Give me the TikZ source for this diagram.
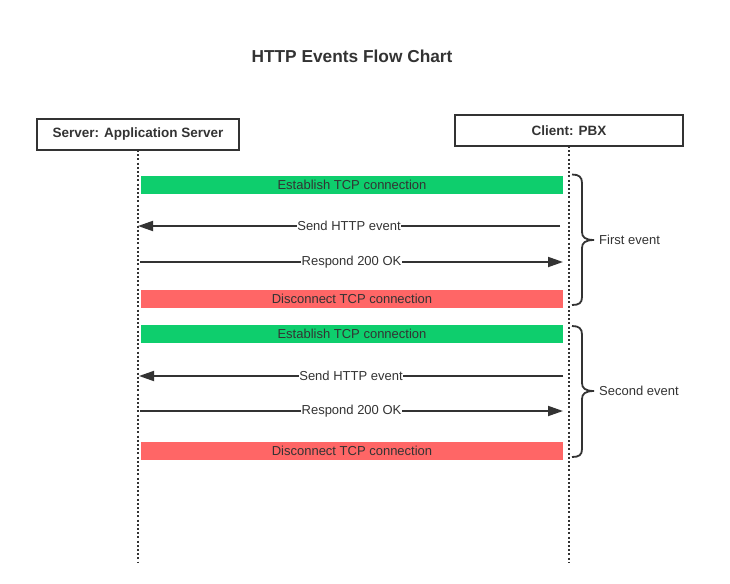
\documentclass[tikz,border=0pt]{standalone}
\usepackage{fontspec}
\setmainfont{Liberation Sans}
\usetikzlibrary{arrows.meta}
\definecolor{ink}{HTML}{333333}
\definecolor{okgreen}{HTML}{0ECE6D}
\definecolor{badred}{HTML}{FF6666}
\tikzset{
  actor/.style={draw=ink, line width=1.6pt, fill=white, text=ink, font=\fontsize{13.5}{16}\selectfont\bfseries, minimum height=31pt, inner sep=0pt},
  life/.style={draw=ink, line width=2pt, dash pattern=on 2pt off 2.2pt},
  bar/.style={text=ink, font=\fontsize{13}{15}\selectfont, minimum height=18pt, minimum width=422pt, inner sep=0pt},
  msg/.style={draw=ink, line width=1.8pt, -{Triangle[length=15pt,width=10pt]}},
  msglbl/.style={fill=white, text=ink, font=\fontsize{13}{15}\selectfont, inner sep=0.5pt},
  brace/.style={draw=ink, line width=1.8pt},
  bracelbl/.style={text=ink, font=\fontsize{13}{15}\selectfont, anchor=west, inner sep=0pt}
}
\begin{document}
\begin{tikzpicture}[x=1pt,y=-1pt]
\useasboundingbox[fill=white] (0,0) rectangle (730,583);
\node[text=ink, font=\fontsize{17.3}{20}\selectfont\bfseries] (title) at (352,56) {HTTP Events Flow Chart};
% lifelines
\coordinate (srvtop) at (138,150);
\coordinate (srvend) at (138,562);
\coordinate (clitop) at (569,146);
\coordinate (cliend) at (569,562);
\draw[life] (srvtop) -- (srvend);
\draw[life] (clitop) -- (cliend);
\node[actor, minimum width=202pt] (srv) at (138,134.5) {Server: Application Server};
\node[actor, minimum width=228pt] (cli) at (569,130.5) {Client: PBX};
% first event
\node[bar, fill=okgreen] (est1) at (352,185) {Establish TCP connection};
\coordinate (s1a) at (560,226); \coordinate (s1b) at (138,226);
\draw[msg] (s1a) -- node[msglbl] (s1l) {Send HTTP event} (s1b);
\coordinate (r1a) at (140,262); \coordinate (r1b) at (563,262);
\draw[msg] (r1a) -- node[msglbl] (r1l) {Respond 200 OK} (r1b);
\node[bar, fill=badred] (dis1) at (352,299) {Disconnect TCP connection};
% second event
\node[bar, fill=okgreen] (est2) at (352,334) {Establish TCP connection};
\coordinate (s2a) at (563,376); \coordinate (s2b) at (139,376);
\draw[msg] (s2a) -- node[msglbl] (s2l) {Send HTTP event} (s2b);
\coordinate (r2a) at (140,411); \coordinate (r2b) at (563,411);
\draw[msg] (r2a) -- node[msglbl] (r2l) {Respond 200 OK} (r2b);
\node[bar, fill=badred] (dis2) at (352,451) {Disconnect TCP connection};
% braces
\coordinate (b1tip) at (594,240);
\draw[brace] (572,174.5) .. controls (579,174.5) and (582,177) .. (582,183) -- (582,232)
  .. controls (582,237) and (585,240) .. (b1tip)
  .. controls (585,240) and (582,243) .. (582,248) -- (582,297)
  .. controls (582,303) and (579,305) .. (572,305);
\node[bracelbl] (b1l) at (599,240) {First event};
\coordinate (b2tip) at (594,391);
\draw[brace] (572,326) .. controls (579,326) and (582,328.5) .. (582,334.5) -- (582,383)
  .. controls (582,388) and (585,391) .. (b2tip)
  .. controls (585,391) and (582,394) .. (582,399) -- (582,449)
  .. controls (582,455) and (579,457) .. (572,457);
\node[bracelbl] (b2l) at (599,391) {Second event};
\end{tikzpicture}
\end{document}
